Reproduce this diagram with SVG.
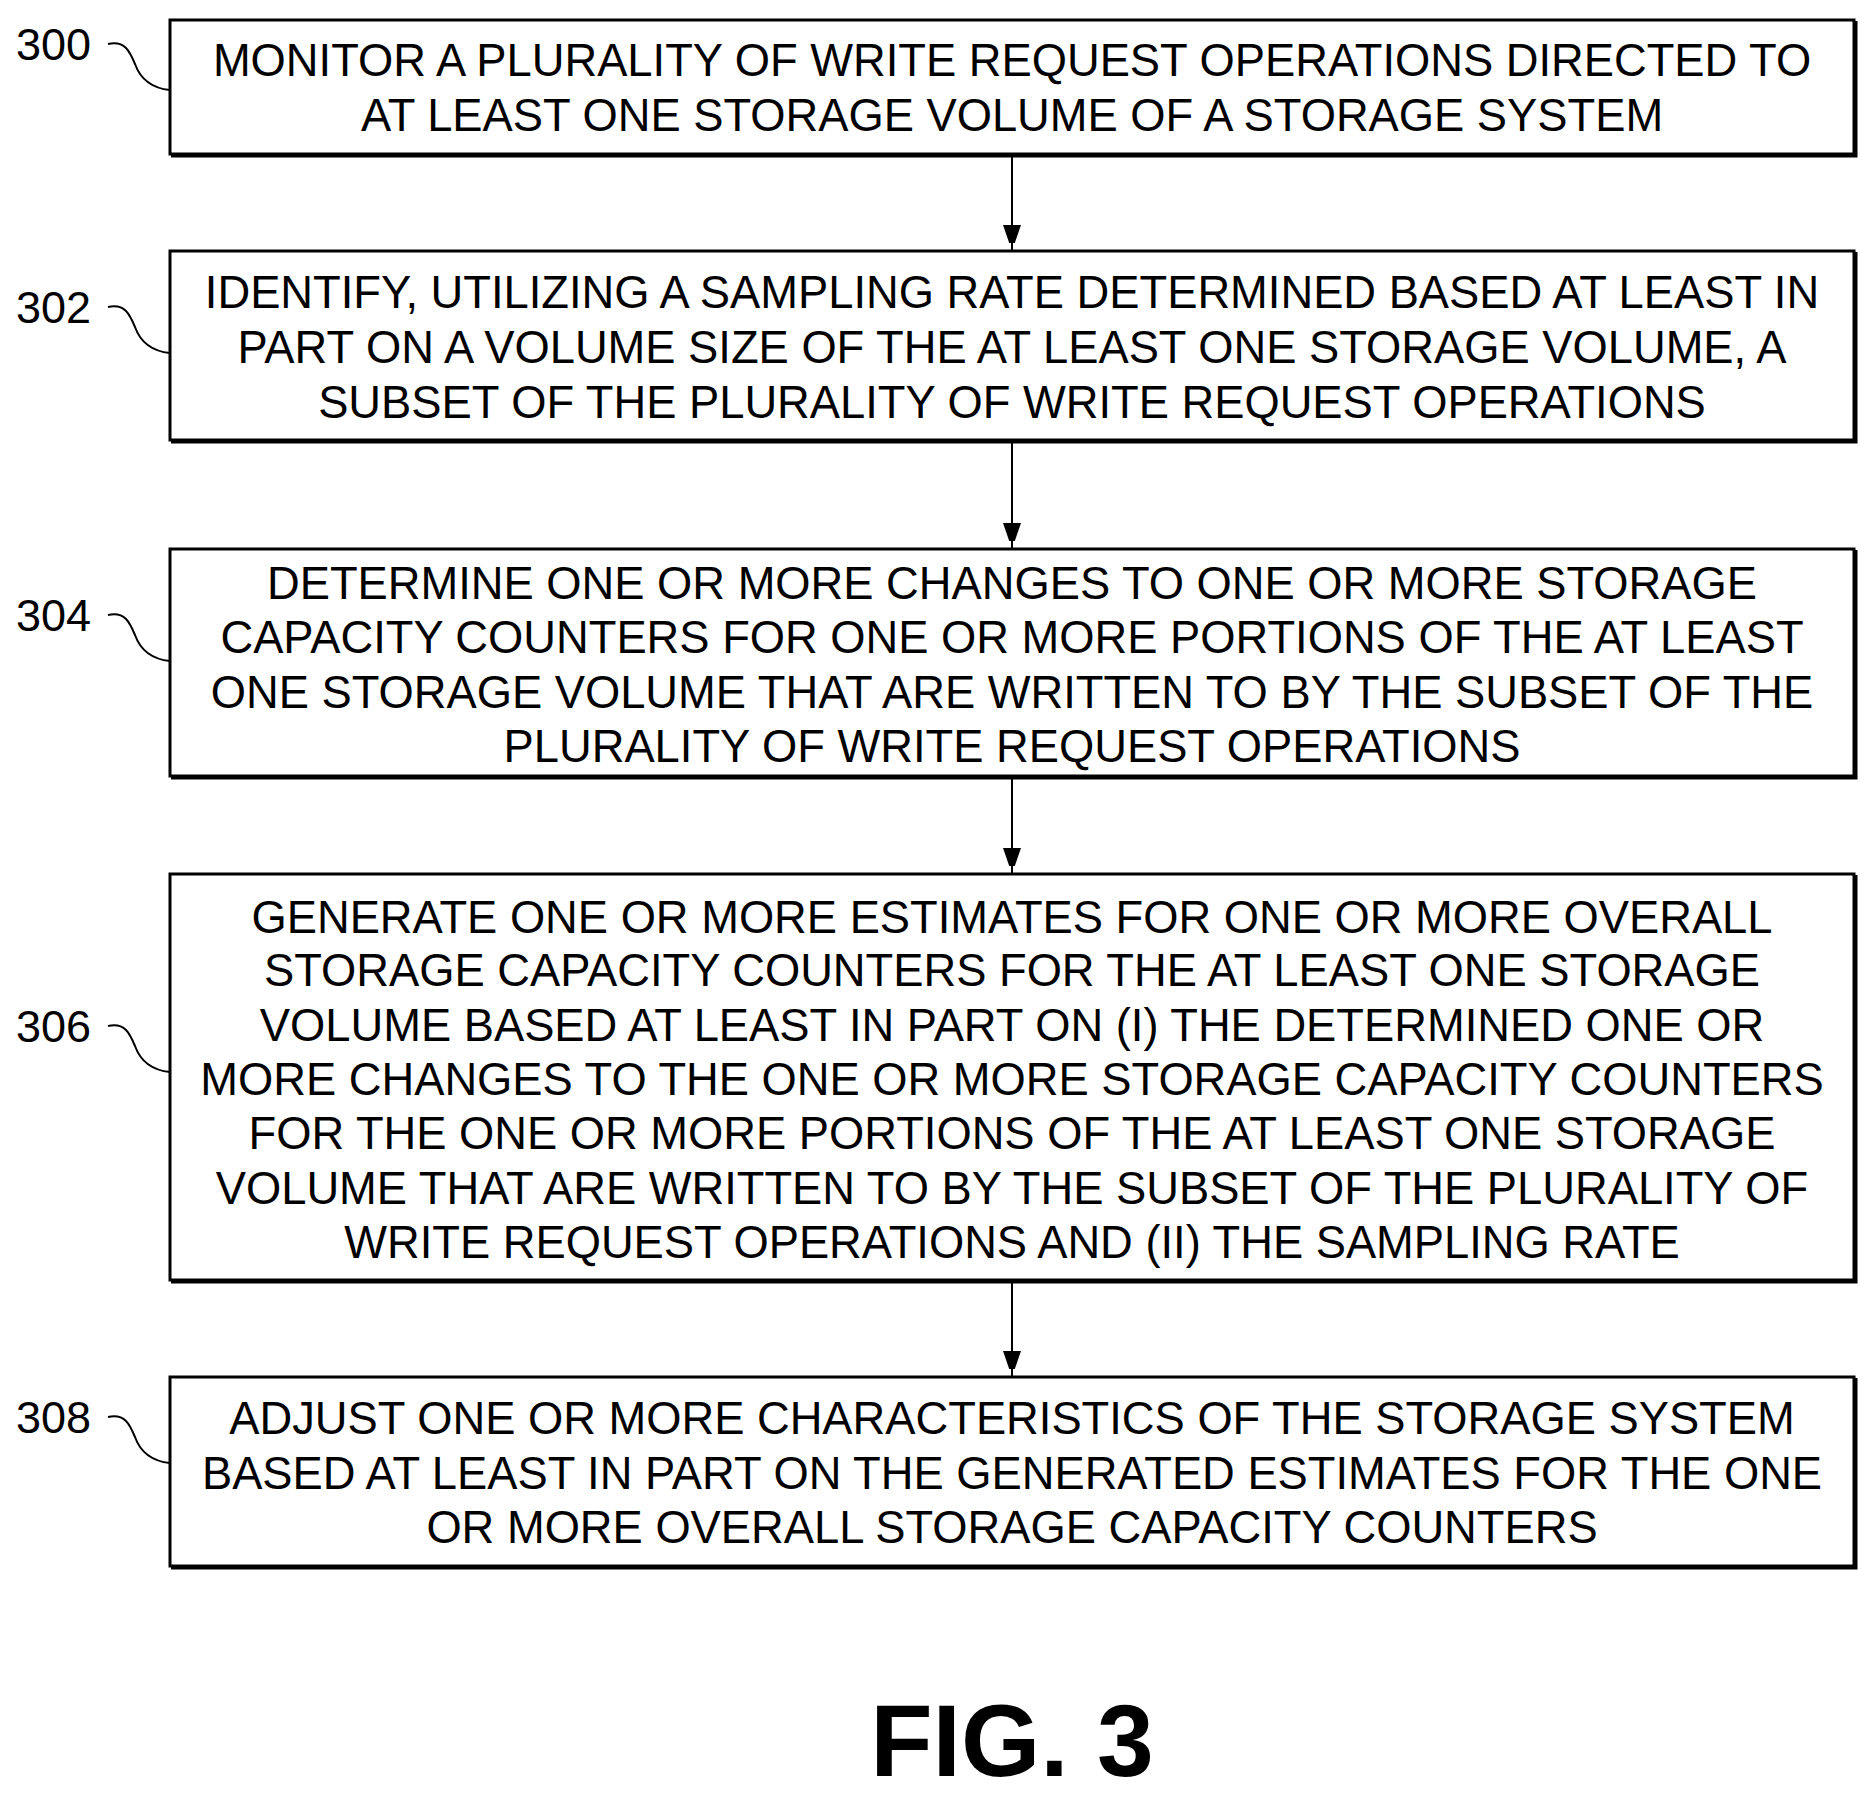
<svg xmlns="http://www.w3.org/2000/svg" width="1875" height="1797" viewBox="0 0 1875 1797">
<style>
.b{fill:#fff;stroke:#000;stroke-width:3}
.s{fill:none;stroke:#000;stroke-width:3}
.t{font-family:"Liberation Sans",Arial,sans-serif;font-size:45.3px;text-anchor:middle;fill:#000}
.l{font-family:"Liberation Sans",Arial,sans-serif;font-size:45px;fill:#000}
.q{fill:none;stroke:#000;stroke-width:2}
.c{stroke:#000;stroke-width:2;fill:none;marker-end:url(#a)}
</style>
<defs><marker id="a" markerWidth="18" markerHeight="26" refX="26" refY="9" orient="auto" markerUnits="userSpaceOnUse"><path d="M0,0 L26,9 L0,18 z" fill="#000"/></marker></defs>
<rect width="1875" height="1797" fill="#fff"/>
<g id="connectors">
<line class="c" x1="1012" y1="156" x2="1012" y2="251"/>
<line class="c" x1="1012" y1="442" x2="1012" y2="549"/>
<line class="c" x1="1012" y1="778" x2="1012" y2="874"/>
<line class="c" x1="1012" y1="1282" x2="1012" y2="1377"/>
</g>
<g id="n300">
<rect class="b" x="170" y="20" width="1684" height="134"/><path class="s" d="M171,156 H1856 V21"/>
<text class="l" x="16" y="60">300</text><path class="q" d="M108,44 C125,40 130,52 135,64 C140,78 150,88 170,90"/>
<text class="t" x="1012" y="76">MONITOR A PLURALITY OF WRITE REQUEST OPERATIONS DIRECTED TO</text>
<text class="t" x="1012" y="131">AT LEAST ONE STORAGE VOLUME OF A STORAGE SYSTEM</text>
</g>
<g id="n302">
<rect class="b" x="170" y="251" width="1684" height="189"/><path class="s" d="M171,442 H1856 V252"/>
<text class="l" x="16" y="323">302</text><path class="q" d="M108,307 C125,303 130,315 135,327 C140,341 150,351 170,353"/>
<text class="t" x="1012" y="308">IDENTIFY, UTILIZING A SAMPLING RATE DETERMINED BASED AT LEAST IN</text>
<text class="t" x="1012" y="363">PART ON A VOLUME SIZE OF THE AT LEAST ONE STORAGE VOLUME, A</text>
<text class="t" x="1012" y="418">SUBSET OF THE PLURALITY OF WRITE REQUEST OPERATIONS</text>
</g>
<g id="n304">
<rect class="b" x="170" y="549" width="1684" height="227"/><path class="s" d="M171,778 H1856 V550"/>
<text class="l" x="16" y="631">304</text><path class="q" d="M108,615 C125,611 130,623 135,635 C140,649 150,659 170,661"/>
<text class="t" x="1012" y="599">DETERMINE ONE OR MORE CHANGES TO ONE OR MORE STORAGE</text>
<text class="t" x="1012" y="653">CAPACITY COUNTERS FOR ONE OR MORE PORTIONS OF THE AT LEAST</text>
<text class="t" x="1012" y="708">ONE STORAGE VOLUME THAT ARE WRITTEN TO BY THE SUBSET OF THE</text>
<text class="t" x="1012" y="762">PLURALITY OF WRITE REQUEST OPERATIONS</text>
</g>
<g id="n306">
<rect class="b" x="170" y="874" width="1684" height="406"/><path class="s" d="M171,1282 H1856 V875"/>
<text class="l" x="16" y="1042">306</text><path class="q" d="M108,1026 C125,1022 130,1034 135,1046 C140,1060 150,1070 170,1072"/>
<text class="t" x="1012" y="933">GENERATE ONE OR MORE ESTIMATES FOR ONE OR MORE OVERALL</text>
<text class="t" x="1012" y="986">STORAGE CAPACITY COUNTERS FOR THE AT LEAST ONE STORAGE</text>
<text class="t" x="1012" y="1041">VOLUME BASED AT LEAST IN PART ON (I) THE DETERMINED ONE OR</text>
<text class="t" x="1012" y="1095">MORE CHANGES TO THE ONE OR MORE STORAGE CAPACITY COUNTERS</text>
<text class="t" x="1012" y="1149">FOR THE ONE OR MORE PORTIONS OF THE AT LEAST ONE STORAGE</text>
<text class="t" x="1012" y="1204">VOLUME THAT ARE WRITTEN TO BY THE SUBSET OF THE PLURALITY OF</text>
<text class="t" x="1012" y="1258">WRITE REQUEST OPERATIONS AND (II) THE SAMPLING RATE</text>
</g>
<g id="n308">
<rect class="b" x="170" y="1377" width="1684" height="189"/><path class="s" d="M171,1568 H1856 V1378"/>
<text class="l" x="16" y="1433">308</text><path class="q" d="M108,1417 C125,1413 130,1425 135,1437 C140,1451 150,1461 170,1463"/>
<text class="t" x="1012" y="1434">ADJUST ONE OR MORE CHARACTERISTICS OF THE STORAGE SYSTEM</text>
<text class="t" x="1012" y="1489">BASED AT LEAST IN PART ON THE GENERATED ESTIMATES FOR THE ONE</text>
<text class="t" x="1012" y="1543">OR MORE OVERALL STORAGE CAPACITY COUNTERS</text>
</g>
<text x="1012" y="1776" style="font-family:'Liberation Sans',Arial,sans-serif;font-size:102px;font-weight:bold;text-anchor:middle">FIG. 3</text>
</svg>
